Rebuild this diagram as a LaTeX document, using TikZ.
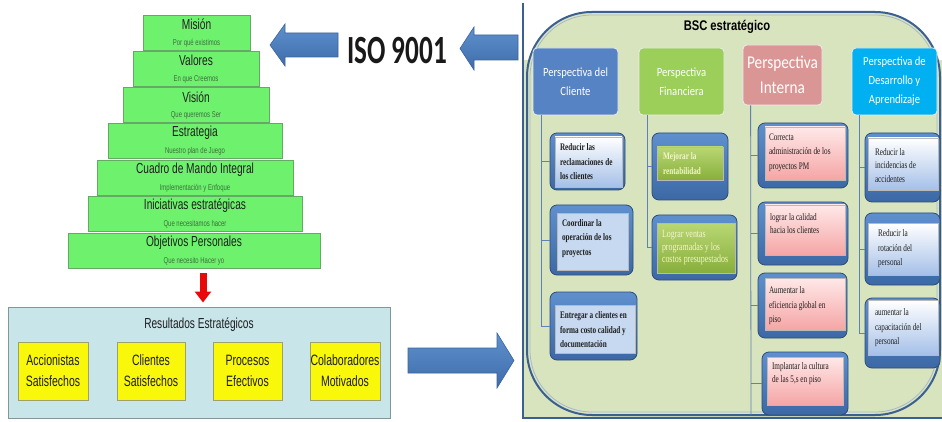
\documentclass[tikz,border=0pt]{standalone}
\usepackage{fontspec}
\setmainfont{Liberation Sans}
\newfontfamily\nsans[FakeStretch=0.7]{Liberation Sans}
\newfontfamily\bscsans[FakeStretch=0.8]{Liberation Sans}
\newfontfamily\nserif[FakeStretch=0.72]{Liberation Serif}
\newfontfamily\ncal[FakeStretch=0.85]{Carlito}
\newfontfamily\isofont[FakeStretch=0.68]{Carlito}
\usetikzlibrary{arrows.meta,calc,fit}

\definecolor{pyrfill}{RGB}{110,242,110}
\definecolor{pyrdraw}{RGB}{100,170,100}
\definecolor{pyrsub}{RGB}{60,110,60}
\definecolor{resfill}{RGB}{200,229,234}
\definecolor{resdraw}{RGB}{130,150,155}
\definecolor{yel}{RGB}{250,248,10}
\definecolor{yeldraw}{RGB}{160,160,110}
\definecolor{arrtop}{RGB}{95,145,205}
\definecolor{arrbot}{RGB}{62,108,170}
\definecolor{barrowd}{RGB}{60,100,155}
\definecolor{redarr}{RGB}{232,10,10}
\definecolor{bscfill}{RGB}{216,228,190}
\definecolor{bscline}{RGB}{60,95,145}
\definecolor{hcfill}{RGB}{86,131,196}
\definecolor{hffill}{RGB}{155,207,90}
\definecolor{hifill}{RGB}{218,150,148}
\definecolor{hdfill}{RGB}{0,176,240}
\definecolor{conncol}{RGB}{95,130,180}
\definecolor{frtop}{RGB}{95,143,205}
\definecolor{frbot}{RGB}{60,105,165}
\definecolor{frdraw}{RGB}{45,75,120}
\definecolor{ltblue}{RGB}{198,217,241}
\definecolor{blgrad}{RGB}{165,192,232}
\definecolor{grtop}{RGB}{185,215,115}
\definecolor{grbot}{RGB}{135,175,60}
\definecolor{pktop}{RGB}{255,232,232}
\definecolor{pkbot}{RGB}{245,165,165}
\definecolor{txtdark}{RGB}{30,30,30}
\definecolor{paleyel}{RGB}{245,245,205}

\newcommand\pyrstep[6]{%
  \node[pstepbox, minimum width=#4, minimum height=35] (#1) at (#2,#3) {};
  \node[ptitle] (#1t) at ($(#1.north)+(0,10)$) {#5};
  \node[psubt] (#1s) at ($(#1.south)+(0,-7)$) {#6};}

\begin{document}
\begin{tikzpicture}[x=1pt,y=-1pt,
  pstepbox/.style={draw=pyrdraw, fill=pyrfill, line width=0.6pt, inner sep=0pt},
  ptitle/.style={inner sep=0, font=\nsans\fontsize{14.5}{16}\selectfont, text=txtdark},
  psubt/.style={inner sep=0, font=\nsans\fontsize{8.5}{10}\selectfont, text=pyrsub},
  resbox/.style={draw=resdraw, fill=resfill, line width=1pt, inner sep=0},
  yelbox/.style={draw=yeldraw, fill=yel, line width=0.8pt, inner sep=0, align=center,
    minimum height=58, font=\nsans\fontsize{15}{21}\selectfont, text=txtdark},
  blockarrow/.style={top color=arrtop, bottom color=arrbot, draw=barrowd, line width=0.6pt},
  headbox/.style={rounded corners=4pt, draw=white!85!gray, line width=0.8pt, text=white,
    align=center, inner sep=0, minimum width=85, minimum height=67,
    font=\ncal\fontsize{12.5}{19}\selectfont},
  conn/.style={draw=conncol, line width=0.8pt},
  outerfr/.style={rounded corners=7pt, draw=frdraw, line width=0.8pt, top color=frtop,
    bottom color=frbot, inner sep=0},
  innerbx/.style={draw=gray!55, line width=0.4pt, inner sep=0},
  ktxt/.style={inner sep=0, align=left, text=txtdark, font=\nserif\fontsize{10}{14.5}\selectfont},
  ktxtb/.style={ktxt, font=\nserif\bfseries\fontsize{10}{14.5}\selectfont},
  pinkbx/.style={innerbx, top color=pktop, bottom color=pkbot},
  bluegbx/.style={innerbx, top color=white, bottom color=blgrad},
  greenbx/.style={innerbx, top color=grtop, bottom color=grbot}
]
\useasboundingbox (0,0) rectangle (942,422);
\fill[white] (0,0) rectangle (942,422);

% ---------- pyramid ----------
\pyrstep{p1}{196.5}{32.5}{107}{Misión}{Por qué existimos}
\pyrstep{p2}{196}{68.5}{126}{Valores}{En que Creemos}
\pyrstep{p3}{196}{105}{146}{Visión}{Que queremos Ser}
\pyrstep{p4}{195}{141}{174}{Estrategia}{Nuestro plan de Juego}
\pyrstep{p5}{195}{177.5}{196}{Cuadro de Mando Integral}{Implementación y Enfoque}
\pyrstep{p6}{195}{213.5}{214}{Iniciativas estratégicas}{Que necesitamos hacer}
\pyrstep{p7}{194}{250.5}{252}{Objetivos Personales}{Que necesito Hacer yo}

% ---------- results ----------
\node[resbox, minimum width=382, minimum height=111] (res) at (199,362.5) {};
\node[inner sep=0, font=\nsans\fontsize{14.5}{16}\selectfont, text=txtdark] (rest) at (199,325) {Resultados Estratégicos};
\node[yelbox, minimum width=70] (y1) at (53,371) {Accionistas\\Satisfechos};
\node[yelbox, minimum width=68] (y2) at (151,371) {Clientes\\Satisfechos};
\node[yelbox, minimum width=69] (y3) at (247.5,371) {Procesos\\Efectivos};
\node[yelbox, minimum width=70] (y4) at (345,371) {Colaboradores\\Motivados};

% red arrow
\coordinate (ra1) at ($(p7.south)+(9,5)$);
\coordinate (ra2) at ($(res.north)+(4,-4)$);
\draw[redarr, line width=7pt, -{Triangle[width=16pt,length=11pt]}] (ra1) -- (ra2);

% ---------- ISO ----------
\node[inner sep=0, text=black!90, font=\isofont\bfseries\fontsize{40}{40}\selectfont] (iso) at (397,51) {ISO 9001};
\path[blockarrow] (338,33) -- (285,33) -- (285,24) -- (270,45) -- (285,66) -- (285,57) -- (338,57) -- cycle;
\path[blockarrow] (518,35) -- (474,35) -- (474,27) -- (460,48.5) -- (474,70) -- (474,60) -- (518,60) -- cycle;
\path[blockarrow] (408,348) -- (497,348) -- (497,333) -- (514,360.5) -- (497,388) -- (497,373) -- (408,373) -- cycle;

% ---------- BSC frame ----------
\fill[bscfill] (523,60) rectangle (942,418);
\draw[bscline, line width=1.2pt] (523,3) -- (523,418) -- (942,418);
\draw[draw=bscline, line width=2pt, fill=bscfill, rounded corners=65pt] (527,12) rectangle (940,415);
\draw[draw=bscline!45!white, line width=0.8pt, rounded corners=62pt] (530,15) rectangle (937,412);
\node[inner sep=0, text=black, font=\bscsans\bfseries\fontsize{14}{16}\selectfont] (bsct) at (727,27) {BSC estratégico};

% headers
\node[headbox, fill=hcfill] (hc) at (575.5,81.5) {Perspectiva del\\Cliente};
\node[headbox, fill=hffill] (hf) at (681.5,81.5) {Perspectiva\\Financiera};
\node[headbox, fill=hifill, minimum width=79, minimum height=60, font=\ncal\fontsize{18}{25}\selectfont] (hi) at (782.5,75) {Perspectiva\\Interna};
\node[headbox, fill=hdfill] (hd) at (894.5,81.5) {Perspectiva de\\Desarrollo y\\Aprendizaje};

% client column
\node[outerfr, fit={(550,133) (625,190)}] (c1o) {};
\node[bluegbx, fit={(555,137) (622,187)}] (c1) {};
\node[ktxtb, anchor=west] (c1t) at ($(c1.west)+(5,0)$) {Reducir las\\reclamaciones de\\los clientes};
\node[outerfr, fit={(550,205) (633,275)}] (c2o) {};
\node[innerbx, fill=ltblue, fit={(557,213) (628,270)}] (c2) {};
\node[ktxtb, anchor=west] (c2t) at ($(c2.west)+(5,-3)$) {Coordinar la\\operación de los\\proyectos};
\node[outerfr, fit={(550,292) (637,360)}] (c3o) {};
\node[innerbx, fill=ltblue, fit={(555,305) (635,353)}] (c3) {};
\node[ktxtb, anchor=west] (c3t) at ($(c3.west)+(5,1)$) {Entregar a clientes en\\forma costo calidad y\\documentación};

% financial column
\node[outerfr, fit={(652,133) (728,200)}] (f1o) {};
\node[greenbx, fit={(657,147) (723,180)}] (f1) {};
\node[ktxtb, text=paleyel, anchor=west] (f1t) at ($(f1.west)+(6,0)$) {Mejorar la\\rentabilidad};
\node[outerfr, fit={(652,215) (737,280)}] (f2o) {};
\node[greenbx, fit={(657,223) (735,273)}] (f2) {};
\node[ktxt, text=paleyel, font=\nserif\fontsize{11}{12.5}\selectfont, anchor=west] (f2t) at ($(f2.west)+(5,0)$) {Lograr ventas\\programadas y los\\costos presupestados};

% internal column
\node[outerfr, fit={(758,123) (848,188)}] (i1o) {};
\node[pinkbx, fit={(765,127) (845,180)}] (i1) {};
\node[ktxt, anchor=west] (i1t) at ($(i1.west)+(4,-1)$) {Correcta\\administración de los\\proyectos PM};
\node[outerfr, fit={(758,202) (848,265)}] (i2o) {};
\node[pinkbx, fit={(765,205) (845,255)}] (i2) {};
\node[ktxt, anchor=west, font=\nserif\fontsize{10}{13}\selectfont] (i2t) at ($(i2.west)+(5,-6.5)$) {lograr la calidad\\hacia los clientes};
\node[outerfr, fit={(758,273) (847,338)}] (i3o) {};
\node[pinkbx, fit={(765,278) (845,330)}] (i3) {};
\node[ktxt, anchor=west] (i3t) at ($(i3.west)+(4,2)$) {Aumentar la\\eficiencia global en\\piso};
\node[outerfr, fit={(762,352) (848,415)}] (i4o) {};
\node[pinkbx, fit={(767,357) (843,405)}] (i4) {};
\node[ktxt, anchor=west, font=\nserif\fontsize{10}{13}\selectfont] (i4t) at ($(i4.west)+(5,-7.5)$) {Implantar la cultura\\de las 5,s en piso};

% development column
\node[outerfr, fit={(865,133) (940,202)}] (d1o) {};
\node[bluegbx, fit={(868,138) (938,190)}] (d1) {};
\node[ktxt, anchor=west, font=\nserif\fontsize{10}{13.5}\selectfont] (d1t) at ($(d1.west)+(7,1.5)$) {Reducir la\\incidencias de\\accidentes};
\node[outerfr, fit={(865,213) (940,285)}] (d2o) {};
\node[bluegbx, fit={(868,223) (938,275)}] (d2) {};
\node[ktxt, anchor=west] (d2t) at ($(d2.west)+(10,0)$) {Reducir la\\rotación del\\personal};
\node[outerfr, fit={(865,298) (940,368)}] (d3o) {};
\node[bluegbx, fit={(868,300) (938,355)}] (d3) {};
\node[ktxt, anchor=west] (d3t) at ($(d3.west)+(7,0.5)$) {aumentar la\\capacitación del\\personal};

% connectors
\coordinate (tc) at ($(hc.south west)+(9,0)$);
\draw[conn] (tc) |- (c3o.west);
\draw[conn] (c1o.west -| tc) -- (c1o.west);
\draw[conn] (c2o.west -| tc) -- (c2o.west);

\coordinate (tf) at ($(hf.south west)+(9,0)$);
\draw[conn] (tf) |- (f2o.west);
\draw[conn] (f1o.west -| tf) -- (f1o.west);

\coordinate (ti) at ($(hi.south west)+(8,0)$);
\coordinate (tiend) at (751,415);
\draw[conn] (ti) -- (tiend);
\draw[conn] (i1o.west -| ti) -- (i1o.west);
\draw[conn] (i2o.west -| ti) -- (i2o.west);
\draw[conn] (i3o.west -| ti) -- (i3o.west);
\draw[conn] (i4o.west -| ti) -- (i4o.west);

\coordinate (td) at ($(hd.south west)+(8,0)$);
\draw[conn] (td) |- (d3o.west);
\draw[conn] (d1o.west -| td) -- (d1o.west);
\draw[conn] (d2o.west -| td) -- (d2o.west);
\end{tikzpicture}
\end{document}
